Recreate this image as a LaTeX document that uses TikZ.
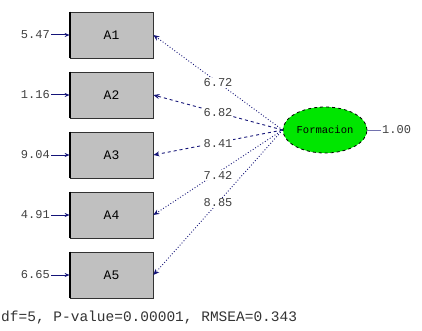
\documentclass[tikz,border=0pt]{standalone}
\usepackage{fontspec}
\setmainfont{Liberation Mono}
\usetikzlibrary{arrows.meta,shapes.geometric}
\definecolor{navy}{RGB}{20,20,120}
\definecolor{boxgray}{RGB}{192,192,192}
\definecolor{latgreen}{RGB}{0,230,0}
\tikzset{
  obs/.style={draw=black!80,line width=0.8pt,fill=boxgray,minimum width=83pt,minimum height=46pt,inner sep=0pt,font=\fontsize{13}{14}\selectfont},
  lat/.style={ellipse,draw=black,dashed,line width=0.8pt,fill=latgreen,minimum width=84pt,minimum height=46pt,inner sep=0pt,font=\fontsize{10.5}{11}\selectfont},
  lbl/.style={font=\fontsize{12}{13}\selectfont,text=black!75,fill=white,inner sep=1pt},
  err/.style={font=\fontsize{12}{13}\selectfont,text=black!75,anchor=east,inner sep=1pt},
  loadd/.style={navy,line width=0.9pt,dotted,-{Stealth[length=6pt,width=5pt]}},
  loadh/.style={navy,line width=0.9pt,dashed,-{Stealth[length=6pt,width=5pt]}},
  errarr/.style={navy,line width=1pt,-{Stealth[length=5pt,width=4pt]}}
}
\begin{document}
\begin{tikzpicture}[x=1pt,y=-1pt]
\useasboundingbox (0,0) rectangle (422,331);
\foreach \i in {1,...,5}{
  \node[obs] (A\i) at (111.5,35+60*\i-60) {A\i};
  \draw[black,line width=2pt] (A\i.north west) -- (A\i.south west);
}
\node[lat] (F) at (325,130) {Formacion};
\foreach \i/\v in {1/5.47,2/1.16,3/9.04,4/4.91,5/6.65}{
  \node[err] (e\i) at (51,35+60*\i-60) {\v};
  \draw[errarr] (e\i.east) -- (A\i.west);
}
\draw[loadd] (F.west) -- (A1.east);
\draw[loadh] (F.west) -- (A2.east);
\draw[loadh] (F.west) -- (A3.east);
\draw[loadd] (F.west) -- (A4.east);
\draw[loadd] (F.west) -- (A5.east);
\node[lbl] (l1) at (218,83) {6.72};
\node[lbl] (l2) at (218,113) {6.82};
\node[lbl] (l3) at (218,144) {8.41};
\node[lbl] (l4) at (218,175) {7.42};
\node[lbl] (l5) at (218,203) {8.85};
\node[lbl,anchor=west,fill=none] (fv) at (381,130) {1.00};
\draw[navy!60,line width=0.6pt] (F.east) -- (fv.west);
\node[anchor=west,font=\fontsize{14.5}{15}\selectfont,inner sep=0pt,text=black!80] (foot) at (1,318) {df=5, P-value=0.00001, RMSEA=0.343};
\end{tikzpicture}
\end{document}
